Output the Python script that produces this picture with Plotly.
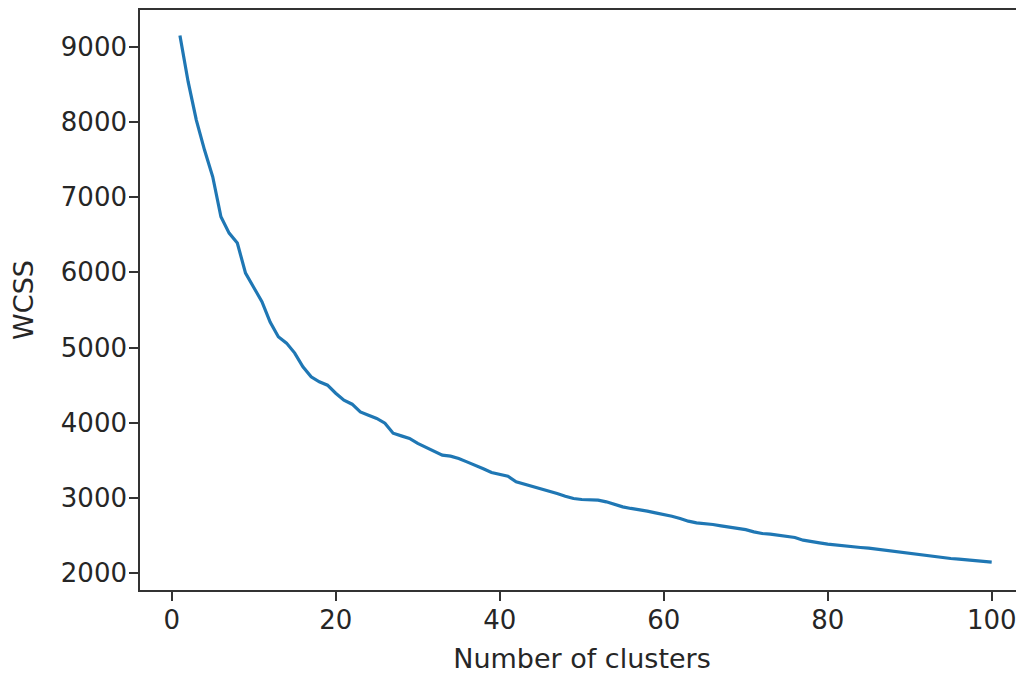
import plotly.graph_objects as go

clusters = list(range(1, 101))
wcss = [
    9150, 8535, 8025, 7626, 7271, 6739, 6522, 6390, 5990, 5809,
    5610, 5340, 5144, 5060, 4927, 4745, 4612, 4545, 4501, 4394,
    4301, 4248, 4146, 4102, 4058, 3996, 3863, 3827, 3793, 3726,
    3673, 3614, 3570, 3557, 3527, 3481, 3438, 3390, 3340, 3310,
    3291, 3216, 3185, 3162, 3127, 3096, 3060, 3025, 2994, 2981,
    2981, 2972, 2950, 2915, 2883, 2862, 2848, 2826, 2803, 2782,
    2759, 2729, 2693, 2670, 2662, 2649, 2630, 2613, 2596, 2580,
    2551, 2529, 2520, 2507, 2493, 2476, 2440, 2418, 2404, 2387,
    2374, 2360, 2351, 2343, 2334, 2320, 2303, 2285, 2271, 2258,
    2250, 2236, 2223, 2210, 2197, 2188, 2178, 2170, 2161, 2148,
]
x_ticks = [0, 20, 40, 60, 80, 100]
y_ticks = [2000, 3000, 4000, 5000, 6000, 7000, 8000, 9000]

FONT = "DejaVu Sans"
TXT = "#262626"
AX = "#333333"

fig = go.Figure(
    go.Scatter(x=clusters, y=wcss, mode="lines",
               line=dict(color="#1f77b4", width=3.2), showlegend=False)
)

# the page body adds an 8px offset, so the figure is 1016x666 with margins shifted by 8
fig.update_layout(
    width=1016, height=666,
    margin=dict(l=132, r=0, t=2, b=84, autoexpand=False),
    paper_bgcolor="white", plot_bgcolor="white",
    font=dict(family=FONT, size=26, color=TXT),
)
fig.update_xaxes(
    range=[-3.87, 103.94], tickvals=x_ticks, ticktext=[str(v) for v in x_ticks],
    showgrid=False, zeroline=False, showline=True, linecolor=AX, linewidth=1.6,
    mirror=True, ticks="outside", ticklen=9, tickwidth=1.5, tickcolor=AX,
    tickfont=dict(family=FONT, size=26, color=TXT), ticklabelstandoff=-3,
    title=dict(text="Number of clusters", font=dict(family=FONT, size=27, color=TXT), standoff=16),
    automargin=False,
)
fig.update_yaxes(
    range=[1778, 9488], tickvals=y_ticks, ticktext=[str(v) for v in y_ticks],
    showgrid=False, zeroline=False, showline=True, linecolor=AX, linewidth=1.6,
    mirror=False, ticks="outside", ticklen=9, tickwidth=1.5, tickcolor=AX,
    tickfont=dict(family=FONT, size=26, color=TXT), ticklabelstandoff=-3,
    title=dict(text="WCSS", font=dict(family=FONT, size=27, color=TXT), standoff=24),
    automargin=False,
)

fig.write_html("out.html")
